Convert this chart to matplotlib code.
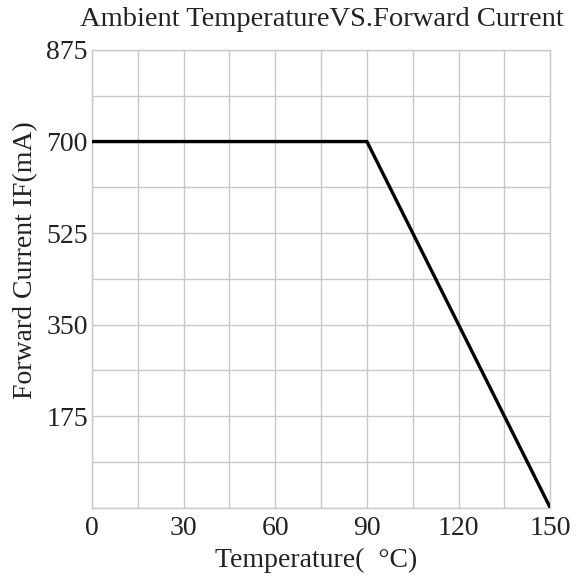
import numpy as np
import matplotlib
matplotlib.use("Agg")
import matplotlib.pyplot as plt

# derating curve: ambient temperature vs forward current
temp = [0, 90, 150]
current = [700, 700, 0]

x_ticks = [0, 30, 60, 90, 120, 150]
y_ticks = [175, 350, 525, 700, 875]

plt.rcParams['font.family'] = ['Liberation Serif', 'DejaVu Serif']

fig = plt.figure(figsize=(5.78, 5.81), dpi=100)
ax = fig.add_axes([0.159, 0.126, 0.793, 0.788])

ax.plot(temp, current, color='black', lw=2.4, solid_joinstyle='miter', zorder=3)

ax.set_xlim(0, 150)
ax.set_ylim(0, 875)
ax.set_xticks(x_ticks)
ax.set_yticks(y_ticks)
ax.set_xticks(np.arange(0, 151, 15), minor=True)
ax.set_yticks(np.arange(0, 876, 87.5), minor=True)
ax.grid(which='both', color='#c8c8c8', lw=1.0)
ax.tick_params(which='both', length=0, labelsize=20, colors='#222222')
ax.tick_params(axis='x', pad=6)
ax.tick_params(axis='y', pad=3)
for s in ax.spines.values():
    s.set_color('#c8c8c8')
    s.set_linewidth(1.0)

ax.set_xlabel('Temperature(  °C)', fontsize=20, color='#222222')
ax.xaxis.set_label_coords(0.49, -0.088)
ax.set_ylabel('Forward Current IF(mA)', fontsize=20, color='#222222')
ax.yaxis.set_label_coords(-0.117, 0.54)
fig.text(0.557, 0.966, 'Ambient TemperatureVS.Forward Current',
         ha='center', va='center', fontsize=20.5, color='#222222')

fig.savefig('out.png', dpi=100)
